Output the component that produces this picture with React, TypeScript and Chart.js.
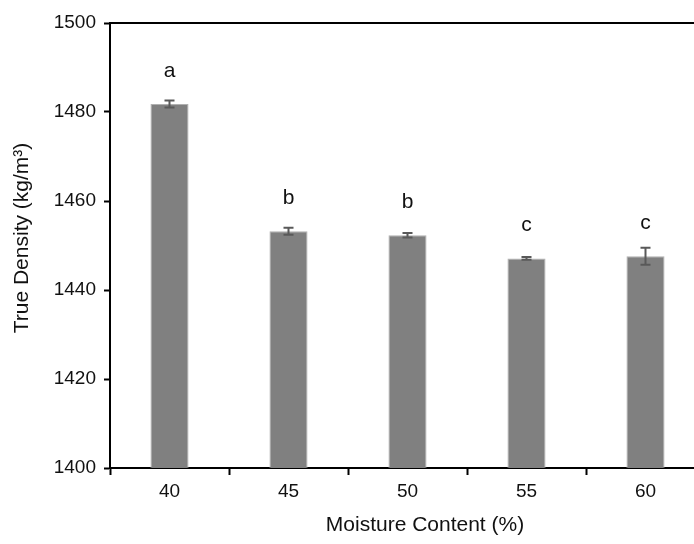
import React, { useEffect, useRef } from "react";
import { Chart, registerables } from "chart.js";

Chart.register(...registerables);

const categories = ["40", "45", "50", "55", "60"];
const densityValues = [1481.8, 1453.2, 1452.3, 1447.1, 1447.6];
const densityErrors = [0.8, 0.8, 0.5, 0.3, 1.9];
const groupLetters = ["a", "b", "b", "c", "c"];
const yTicks = [1400, 1420, 1440, 1460, 1480, 1500];
const xTitle = "Moisture Content (%)";
const yTitle = "True Density (kg/m\u00B3)";

const FONT = "'Liberation Sans', Arial, sans-serif";

const decorPlugin = {
  id: "decor",
  afterDatasetsDraw(chart: any) {
    const ctx = chart.ctx;
    const meta = chart.getDatasetMeta(0);
    const y = chart.scales.y;
    const area = chart.chartArea;
    ctx.save();
    // error bars
    ctx.strokeStyle = "#595959";
    ctx.lineWidth = 2;
    meta.data.forEach((bar: any, i: number) => {
      const v = densityValues[i];
      const e = densityErrors[i];
      const yt = y.getPixelForValue(v + e);
      const yb = y.getPixelForValue(v - e);
      const x = bar.x;
      ctx.beginPath();
      ctx.moveTo(x, yt);
      ctx.lineTo(x, yb);
      ctx.moveTo(x - 5, yt);
      ctx.lineTo(x + 5, yt);
      ctx.moveTo(x - 5, yb);
      ctx.lineTo(x + 5, yb);
      ctx.stroke();
      // letters
      ctx.fillStyle = "#111";
      ctx.font = `21px ${FONT}`;
      ctx.textAlign = "center";
      ctx.textBaseline = "middle";
      ctx.fillText(groupLetters[i], x, Math.min(bar.y - 33, yt - 22));
    });
    // top border
    ctx.strokeStyle = "#000";
    ctx.lineWidth = 2;
    ctx.beginPath();
    ctx.moveTo(area.left - 1, area.top);
    ctx.lineTo(area.right + 20, area.top);
    ctx.stroke();
    // axis titles
    ctx.fillStyle = "#111";
    ctx.font = `21px ${FONT}`;
    ctx.textAlign = "center";
    ctx.textBaseline = "middle";
    ctx.fillText(xTitle, 425, 525);
    ctx.save();
    ctx.translate(22, 238);
    ctx.rotate(-Math.PI / 2);
    ctx.fillText(yTitle, 0, 0);
    ctx.restore();
    ctx.restore();
  },
};

export default function App() {
  const canvasRef = useRef<HTMLCanvasElement | null>(null);

  useEffect(() => {
    const canvas = canvasRef.current;
    if (!canvas) return;
    const chart = new Chart(canvas, {
      type: "bar",
      data: {
        labels: categories,
        datasets: [
          {
            data: densityValues,
            backgroundColor: "#808080",
            borderColor: "#b0b0b0",
            borderWidth: 1,
            categoryPercentage: 1,
            barPercentage: 0.32,
          },
        ],
      },
      options: {
        responsive: false,
        animation: false,
        events: [],
        layout: { padding: { left: 0, top: 23, right: 15, bottom: 0 } },
        plugins: {
          legend: { display: false },
          tooltip: { enabled: false },
        },
        scales: {
          x: {
            afterFit(scale: any) {
              scale.height = 76;
            },
            grid: {
              offset: true,
              drawOnChartArea: false,
              drawTicks: true,
              tickLength: 7,
              tickColor: "#000",
              tickWidth: 2,
            },
            border: { display: true, color: "#000", width: 2 },
            ticks: {
              color: "#111",
              font: { family: FONT, size: 19 },
              padding: 5,
            },
          },
          y: {
            min: 1400,
            max: 1500,
            afterFit(scale: any) {
              scale.width = 110;
            },
            afterBuildTicks(scale: any) {
              scale.ticks = yTicks.map((v) => ({ value: v }));
            },
            grid: {
              drawOnChartArea: false,
              drawTicks: true,
              tickLength: 6,
              tickColor: "#000",
              tickWidth: 2,
            },
            border: { display: true, color: "#000", width: 2 },
            ticks: {
              color: "#111",
              font: { family: FONT, size: 19 },
              padding: 8,
              callback: (v: any) => String(v),
            },
          },
        },
      },
      plugins: [decorPlugin],
    });
    return () => chart.destroy();
  }, []);

  return (
    <div
      style={{
        position: "fixed",
        left: 0,
        top: 0,
        width: 694,
        height: 544,
        overflow: "hidden",
        background: "#fff",
      }}
    >
      <canvas ref={canvasRef} width={720} height={544} style={{ display: "block" }} />
    </div>
  );
}
